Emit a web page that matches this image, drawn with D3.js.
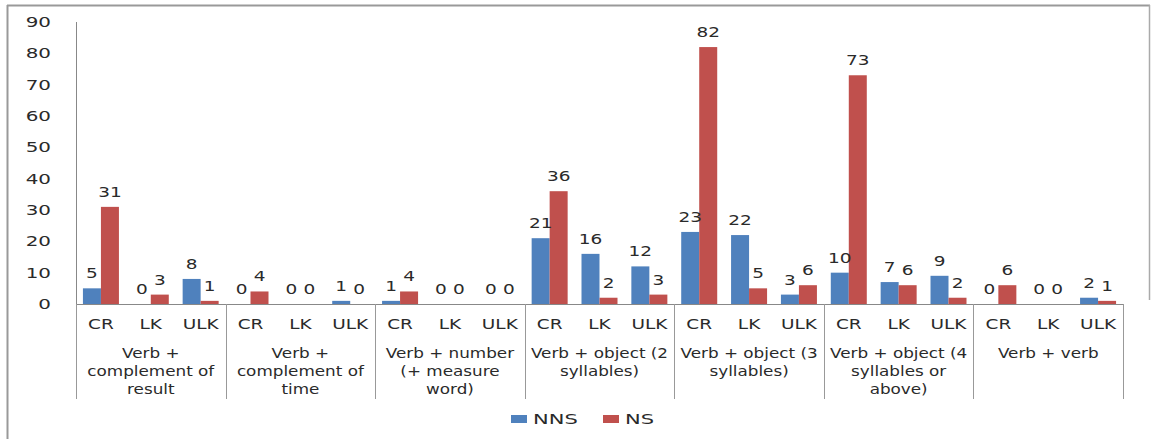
<!DOCTYPE html>
<html>
<head>
<meta charset="utf-8">
<script src="https://cdn.jsdelivr.net/npm/d3@7"></script>
<style>
  body { margin: 0; background: #fff; }
  svg text { font-family: "DejaVu Sans", Verdana, sans-serif; fill: #2a2a2a; }
</style>
</head>
<body>
<svg id="chart" width="1151" height="439"></svg>
<script>
// categories
var groups = ["Verb + complement of result", "Verb + complement of time", "Verb + number (+ measure word)",
  "Verb + object (2 syllables)", "Verb + object (3 syllables)", "Verb + object (4 syllables or above)", "Verb + verb"];
var groupLines = [
  ["Verb +", "complement of", "result"],
  ["Verb +", "complement of", "time"],
  ["Verb + number", "(+ measure", "word)"],
  ["Verb + object (2", "syllables)"],
  ["Verb + object (3", "syllables)"],
  ["Verb + object (4", "syllables or", "above)"],
  ["Verb + verb"]
];
var subs = ["CR", "LK", "ULK"];
var series = ["NNS", "NS"];
var colors = ["#4f81bd", "#c0504d"];

// values, per group: CR, LK, ULK
var nns = [[5, 0, 8], [0, 0, 1], [1, 0, 0], [21, 16, 12], [23, 22, 3], [10, 7, 9], [0, 0, 2]];
var ns  = [[31, 3, 1], [4, 0, 0], [4, 0, 0], [36, 2, 3], [82, 5, 6], [73, 6, 2], [6, 0, 1]];
var yTicks = [0, 10, 20, 30, 40, 50, 60, 70, 80, 90];

var svg = d3.select("#chart");
var plotLeft = 76, plotRight = 1123, plotTop = 22, base = 304;
var sx = 1.32; // text in the reference is drawn horizontally stretched

// text helper: stretched text anchored at (x, y)
function txt(sel, size, anchor, stretch) {
  return sel.attr("font-size", size).attr("text-anchor", anchor)
    .attr("transform", d => "translate(" + d.x + "," + d.y + ") scale(" + (stretch || sx) + ",1)");
}

// outer frame
svg.append("line").attr("x1", 7.5).attr("x2", 7.5).attr("y1", 5).attr("y2", 439)
  .attr("stroke", "#999").attr("stroke-width", 2);
svg.append("line").attr("x1", 7).attr("x2", 1150).attr("y1", 5.5).attr("y2", 5.5)
  .attr("stroke", "#999").attr("stroke-width", 2);
svg.append("line").attr("x1", 1149.5).attr("x2", 1149.5).attr("y1", 5).attr("y2", 300)
  .attr("stroke", "#aaa").attr("stroke-width", 1.5);

var y = d3.scaleLinear().domain([0, 90]).range([base, plotTop]);
var xg = d3.scaleBand().domain(groups).range([plotLeft, plotRight]);
var xs = d3.scaleBand().domain(subs).range([0, xg.bandwidth()]);
var xb = d3.scaleBand().domain(series).range([0, 36]);

// y axis
svg.append("line").attr("x1", plotLeft + 0.5).attr("x2", plotLeft + 0.5).attr("y1", plotTop).attr("y2", base)
  .attr("stroke", "#888");
txt(svg.selectAll(".ytick").data(yTicks.map(v => ({ v: v, x: 51, y: y(v) + 5 }))).join("text")
  .attr("class", "ytick"), 14, "end", 1.42)
  .text(d => d.v);

// baseline
svg.append("line").attr("x1", plotLeft).attr("x2", plotRight).attr("y1", base + 0.5).attr("y2", base + 0.5)
  .attr("stroke", "#888");

// group dividers
svg.selectAll(".div").data(d3.range(groups.length + 1)).join("line")
  .attr("class", "div")
  .attr("x1", i => Math.round(plotLeft + i * xg.bandwidth()) + 0.5)
  .attr("x2", i => Math.round(plotLeft + i * xg.bandwidth()) + 0.5)
  .attr("y1", base).attr("y2", 399)
  .attr("stroke", "#999");

// bars
var rows = [];
groups.forEach((g, gi) => {
  subs.forEach((s, si) => {
    rows.push({ g: g, s: s, k: "NNS", v: nns[gi][si], c: colors[0] });
    rows.push({ g: g, s: s, k: "NS", v: ns[gi][si], c: colors[1] });
  });
});
function bx(d) { return xg(d.g) + xs(d.s) + (xs.bandwidth() - 36) / 2 + xb(d.k); }

svg.selectAll(".bar").data(rows).join("rect")
  .attr("class", "bar")
  .attr("x", bx).attr("width", xb.bandwidth())
  .attr("y", d => y(d.v)).attr("height", d => base - y(d.v))
  .attr("fill", d => d.c);

rows.forEach(d => { d.x = bx(d) + xb.bandwidth() / 2; d.y = y(d.v) - 10; });
txt(svg.selectAll(".val").data(rows).join("text").attr("class", "val"), 14, "middle")
  .text(d => d.v);

// sub labels and group labels
groups.forEach((g, gi) => {
  var sl = subs.map(s => ({ t: s, x: xg(g) + xs(s) + xs.bandwidth() / 2, y: 329 }));
  txt(svg.selectAll(".sub" + gi).data(sl).join("text"), 14, "middle").text(d => d.t);
  var gl = groupLines[gi].map((t, i) => ({ t: t, x: xg(g) + xg.bandwidth() / 2, y: 358 + i * 18 }));
  txt(svg.selectAll(".gl" + gi).data(gl).join("text"), 14, "middle", 1.2).text(d => d.t);
});

// legend
var leg = [{ t: "NNS", x: 511 }, { t: "NS", x: 603 }];
leg.forEach((l, i) => {
  svg.append("rect").attr("x", l.x).attr("y", 415).attr("width", 16).attr("height", 8).attr("fill", colors[i]);
});
txt(svg.selectAll(".leg").data(leg.map(l => ({ t: l.t, x: l.x + 22, y: 424 }))).join("text"), 14, "start", 1.5)
  .text(d => d.t);
</script>
</body>
</html>
